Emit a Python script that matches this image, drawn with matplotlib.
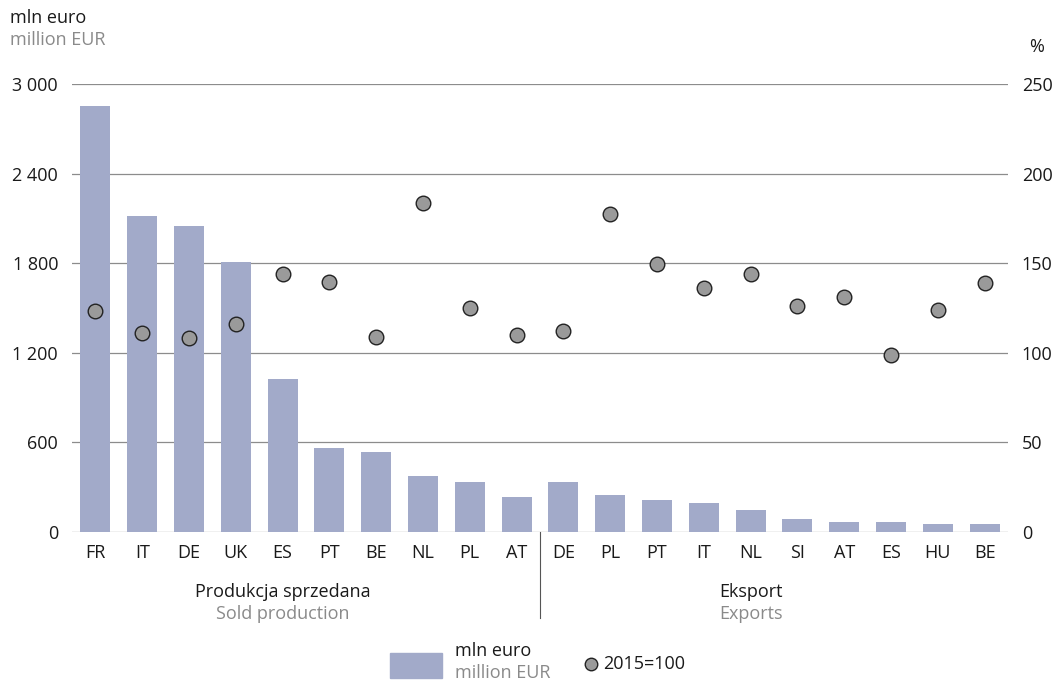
import matplotlib
matplotlib.use("Agg")
import matplotlib.pyplot as plt
import matplotlib.transforms as mtransforms
from matplotlib.patches import Rectangle
from matplotlib.lines import Line2D

plt.rcParams["font.family"] = ["Open Sans", "DejaVu Sans"]

# data
countries = ["FR", "IT", "DE", "UK", "ES", "PT", "BE", "NL", "PL", "AT",
             "DE", "PL", "PT", "IT", "NL", "SI", "AT", "ES", "HU", "BE"]
values_mln = [2852, 2116, 2049, 1808, 1024, 562, 536, 375, 335, 234,
              335, 248, 214, 194, 147, 87, 67, 67, 54, 54]
index_2015 = [123.1, 110.9, 108.1, 115.9, 143.8, 139.5, 108.8, 183.8, 124.8, 110.1,
              112.3, 177.5, 149.6, 136.3, 143.8, 126.1, 131.1, 98.8, 124.1, 138.9]
left_ticks = [0, 600, 1200, 1800, 2400, 3000]
right_ticks = [0, 50, 100, 150, 200, 250]

BAR = "#a2aac9"
DOT = "#9a9a9a"
GRID = "#8c8c8c"
TXT = "#1a1a1a"
GREY = "#8a8a8a"
FS = 13

fig = plt.figure(figsize=(10.56, 6.82), dpi=100)
ax = fig.add_axes([72 / 1056, 1 - 532 / 682, 936 / 1056, 448 / 682])
ax2 = ax.twinx()

x = list(range(len(countries)))
ax.bar(x, values_mln, width=0.64, color=BAR, zorder=2)
ax.set_xlim(-0.5, len(countries) - 0.5)
ax.set_ylim(0, 3000)
ax.set_yticks(left_ticks)
ax.set_yticklabels([f"{v:,}".replace(",", " ") for v in left_ticks])
ax.set_xticks(x)
ax.set_xticklabels(countries)
ax.tick_params(axis="y", length=0, pad=10, labelsize=FS, labelcolor=TXT)
ax.tick_params(axis="x", length=0, pad=9, labelsize=FS, labelcolor=TXT)
for v in left_ticks:
    ax.axhline(v, color=GRID, lw=0.9, zorder=1)
for s in ax.spines.values():
    s.set_visible(False)

ax2.plot(x, index_2015, "o", ms=10.5, mfc=DOT, mec="#222222", mew=1.0, zorder=3)
ax2.set_ylim(0, 250)
ax2.set_yticks(right_ticks)
ax2.tick_params(axis="y", length=0, pad=10, labelsize=FS, labelcolor=TXT)
for s in ax2.spines.values():
    s.set_visible(False)

# separator between groups and group labels
trans = mtransforms.blended_transform_factory(ax.transData, ax.transAxes)
ax.plot([9.5, 9.5], [0, -0.192], transform=trans, color="#555555", lw=0.8, clip_on=False)
ax.text(4.0, -0.134, "Produkcja sprzedana", transform=trans, ha="center", va="center",
        fontsize=FS, color=TXT)
ax.text(4.0, -0.183, "Sold production", transform=trans, ha="center", va="center",
        fontsize=FS, color=GREY)
ax.text(14.0, -0.134, "Eksport", transform=trans, ha="center", va="center",
        fontsize=FS, color=TXT)
ax.text(14.0, -0.183, "Exports", transform=trans, ha="center", va="center",
        fontsize=FS, color=GREY)

# axis titles
fig.text(10 / 1056, 1 - 18 / 682, "mln euro", ha="left", va="center", fontsize=FS, color=TXT)
fig.text(10 / 1056, 1 - 40 / 682, "million EUR", ha="left", va="center", fontsize=FS, color=GREY)
fig.text(1044 / 1056, 1 - 47 / 682, "%", ha="right", va="center", fontsize=FS, color=TXT)

# legend
fig.patches.append(Rectangle((390 / 1056, 1 - 678 / 682), 52 / 1056, 25 / 682,
                             transform=fig.transFigure, color=BAR))
fig.text(455 / 1056, 1 - 651 / 682, "mln euro", ha="left", va="center", fontsize=FS, color=TXT)
fig.text(455 / 1056, 1 - 673 / 682, "million EUR", ha="left", va="center", fontsize=FS, color=GREY)
fig.lines.append(Line2D([591 / 1056], [1 - 664 / 682], transform=fig.transFigure,
                        marker="o", ms=9, mfc=DOT, mec="#222222", mew=1.0, ls="none"))
fig.text(603 / 1056, 1 - 664 / 682, "2015=100", ha="left", va="center", fontsize=FS, color=TXT)

fig.savefig("out.png", dpi=100)
